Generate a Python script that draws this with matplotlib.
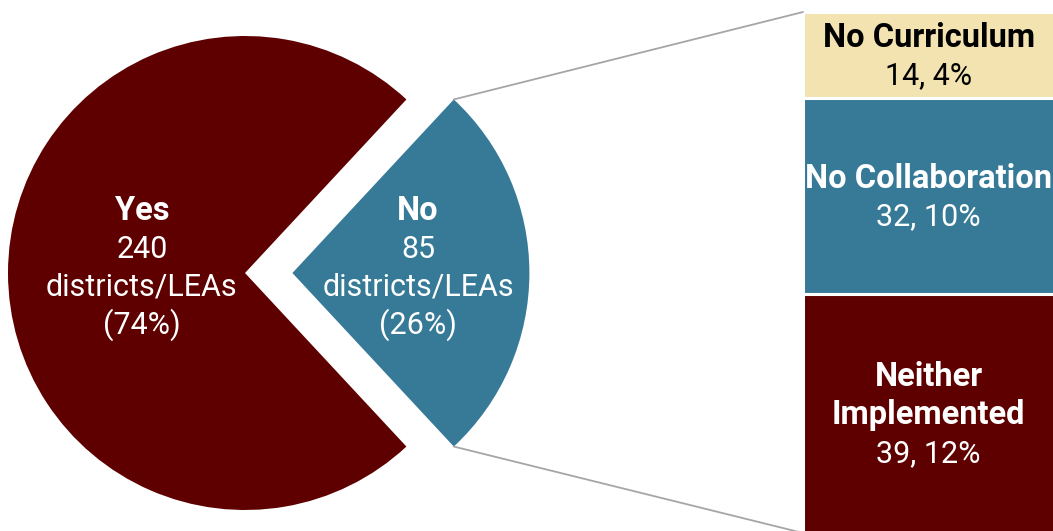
import numpy as np
import matplotlib.pyplot as plt
from matplotlib.patches import ConnectionPatch

plt.rcParams['font.family'] = ['Roboto', 'DejaVu Sans']

# pie: did the district implement both?
pie_labels = ["No", "Yes"]
pie_counts = [85, 240]
pie_pcts = [26, 74]
pie_colors = ["#367A98", "#5E0000"]

# breakdown of the "No" districts (top to bottom)
bar_labels = ["No Curriculum", "No Collaboration", "Neither\nImplemented"]
bar_counts = [14, 32, 39]
bar_pcts = [4, 10, 12]
bar_colors = ["#F2E3B1", "#367A98", "#5E0000"]
bar_text = ["black", "white", "white"]

W, H = 1053, 531
fig = plt.figure(figsize=(W / 100, H / 100), dpi=100)

# pie axes in pixel units, y up
ax = fig.add_axes([0, 0, 1, 1])
cx, cy, r = 245, 258, 237
start = -pie_counts[0] / sum(pie_counts) * 360 / 2
# explode is in data units here, not a fraction of the radius
wedges, _ = ax.pie(pie_counts, colors=pie_colors, startangle=start,
                   explode=[0.2 * r, 0], center=(cx, cy), radius=r,
                   wedgeprops=dict(linewidth=0))
ax.set_xlim(0, W)
ax.set_ylim(0, H)
ax.set_aspect('auto')
ax.axis('off')

fs = 22
fs_bold = 23.5
lh = 38
label_dist = [0.53, 0.435]
for w, lab, n, p, d in zip(wedges, pie_labels, pie_counts, pie_pcts, label_dist):
    mid = np.deg2rad((w.theta1 + w.theta2) / 2)
    x = w.center[0] + d * w.r * np.cos(mid)
    y = w.center[1] + d * w.r * np.sin(mid) + 5
    lines = [(lab, 'bold'), (str(n), 'normal'),
             ("districts/LEAs", 'normal'), ("(%d%%)" % p, 'normal')]
    for i, (t, wt) in enumerate(lines):
        ax.text(x, y + (1.5 - i) * lh, t, ha='center', va='center',
                color='white', fontweight=wt,
                fontsize=fs_bold if wt == 'bold' else fs)

# stacked bar on the right
bx = fig.add_axes([803 / W, -2 / H, 257 / W, 521 / H])
bottoms = np.concatenate([[0], np.cumsum(bar_counts)[:-1]])
bx.bar(0, bar_counts, bottom=bottoms, width=1, color=bar_colors,
       edgecolor='white', linewidth=2.2)
bx.set_xlim(-0.5, 0.5)
bx.set_ylim(sum(bar_counts), 0)
bx.axis('off')

for lab, n, p, b, tc in zip(bar_labels, bar_counts, bar_pcts, bottoms, bar_text):
    lines = [(s, 'bold') for s in lab.split("\n")] + [("%d, %d%%" % (n, p), 'normal')]
    mid = b + n / 2
    k = len(lines)
    for i, (t, wt) in enumerate(lines):
        off = (i - (k - 1) / 2) * lh + 2
        bx.annotate(t, (0, mid), xytext=(-2, -off * 0.72), textcoords='offset points',
                    ha='center', va='center', color=tc, fontweight=wt,
                    fontsize=fs_bold if wt == 'bold' else fs)

# connector lines from the "No" wedge to the bar
no = wedges[0]
for ang, yb in [(no.theta2, 0), (no.theta1, sum(bar_counts))]:
    a = np.deg2rad(ang)
    p0 = (no.center[0] + no.r * np.cos(a), no.center[1] + no.r * np.sin(a))
    con = ConnectionPatch(xyA=p0, coordsA=ax.transData, xyB=(-0.5, yb),
                          coordsB=bx.transData, color='#A6A6A6', linewidth=1.3)
    fig.add_artist(con)

fig.savefig("out.png", dpi=100)
